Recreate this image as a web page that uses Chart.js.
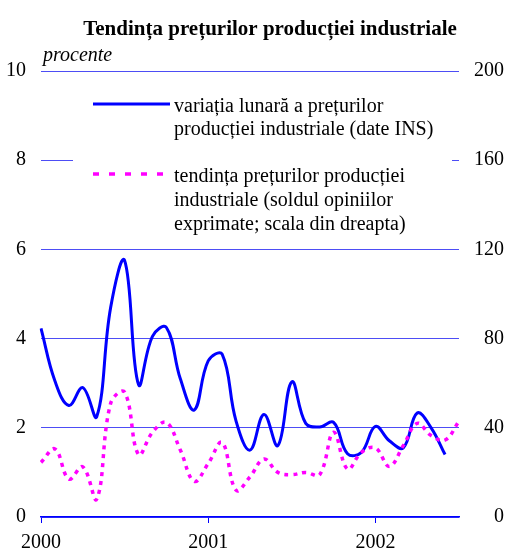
<!DOCTYPE html>
<html><head><meta charset="utf-8">
<script src="https://cdn.jsdelivr.net/npm/chart.js@4.4.1/dist/chart.umd.min.js"></script>
<style>html,body{margin:0;padding:0;background:#fff;} #wrap{width:507px;height:552px;position:relative;}</style>
</head><body><div id="wrap"><canvas id="c" width="507" height="552"></canvas></div>
<script>
const months = ['2000-01','2000-02','2000-03','2000-04','2000-05','2000-06','2000-07','2000-08','2000-09','2000-10','2000-11','2000-12',
  '2001-01','2001-02','2001-03','2001-04','2001-05','2001-06','2001-07','2001-08','2001-09','2001-10','2001-11','2001-12',
  '2002-01','2002-02','2002-03','2002-04','2002-05','2002-06','2002-07'];
// variatia lunara a preturilor productiei industriale (%), left axis
const variatiaLunara = [4.23,3.05,2.5,2.9,2.25,4.7,5.75,2.97,4.05,4.25,3.1,2.4,
  3.5,3.65,2.15,1.5,2.3,1.6,3.03,2.1,2.02,2.12,1.42,1.45,
  2.03,1.71,1.55,2.33,2.0,1.4];
// tendinta preturilor (soldul opiniilor), right axis
const tendinta = [24.5,30.5,17,22.5,8,51,56,28,38,42.4,30,16,
  24,33.4,12,18,26,20,19,20,19,38,21.5,29,
  31,22.7,32,42,36.5,34.5,43];
const yearTicks = ['2000','2001','2002'];
const titleText = 'Tendința prețurilor producției industriale';
const unitText = 'procente';
const legendBlue = ['variația lunară a prețurilor','producției industriale (date INS)'];
const legendMagenta = ['tendința prețurilor producției','industriale (soldul opiniilor','exprimate; scala din dreapta)'];

const FONT = 'Liberation Serif, Times New Roman, serif';
const BLUE = '#0000ff';
const MAGENTA = '#ff00ff';
const GRID = '#4d4df5';

const decor = {
  id: 'decor',
  beforeDatasetsDraw(chart) {
    const ctx = chart.ctx;
    ctx.save();
    ctx.fillStyle = '#ffffff';
    ctx.fillRect(73, 82, 379, 158);
    ctx.restore();
  },
  afterDraw(chart) {
    const ctx = chart.ctx;
    ctx.save();
    ctx.fillStyle = '#000';
    ctx.textBaseline = 'alphabetic';
    ctx.font = 'bold 21px ' + FONT;
    ctx.textAlign = 'center';
    ctx.fillText(titleText, 270, 35);
    ctx.textAlign = 'left';
    ctx.font = 'italic 20px ' + FONT;
    ctx.fillText(unitText, 43, 61);
    // legend
    ctx.font = '20px ' + FONT;
    ctx.fillText(legendBlue[0], 174, 111.5);
    ctx.fillText(legendBlue[1], 174, 135);
    ctx.fillText(legendMagenta[0], 174, 181.5);
    ctx.fillText(legendMagenta[1], 174, 205.5);
    ctx.fillText(legendMagenta[2], 174, 229.5);
    ctx.lineWidth = 3;
    ctx.strokeStyle = BLUE;
    ctx.beginPath(); ctx.moveTo(93, 104); ctx.lineTo(170, 104); ctx.stroke();
    ctx.strokeStyle = MAGENTA;
    ctx.lineWidth = 3.5;
    ctx.setLineDash([6, 10]);
    ctx.beginPath(); ctx.moveTo(93, 174); ctx.lineTo(172, 174); ctx.stroke();
    ctx.restore();
  }
};

new Chart(document.getElementById('c'), {
  type: 'line',
  data: {
    labels: months,
    datasets: [
      { label: 'tendința prețurilor', data: tendinta, yAxisID: 'y1', borderColor: MAGENTA, borderWidth: 3.5,
        borderDash: [4, 5], pointRadius: 0, tension: 0.4, fill: false },
      { label: 'variația lunară', data: variatiaLunara, yAxisID: 'y', borderColor: BLUE, borderWidth: 3,
        pointRadius: 0, tension: 0.4, fill: false }
    ]
  },
  options: {
    responsive: false,
    animation: false,
    devicePixelRatio: 1,
    layout: { padding: { top: 71, right: 3, left: 0, bottom: 0 } },
    plugins: { legend: { display: false }, tooltip: { enabled: false }, title: { display: false } },
    scales: {
      x: {
        type: 'category', offset: false,
        grid: { drawOnChartArea: false, drawTicks: true, tickLength: 6, color: BLUE, lineWidth: 1 },
        border: { display: true, color: BLUE, width: 1.5 },
        ticks: { autoSkip: false, maxRotation: 0, minRotation: 0, padding: 8, color: '#000',
          font: { family: FONT, size: 20 },
          callback: (v) => yearTicks[Math.round(v / 12)] },
        afterBuildTicks: (s) => { s.ticks = s.ticks.filter(t => months[t.value].endsWith('-01')); },
        afterFit: (s) => { s.height = 35; }
      },
      y: {
        position: 'left', min: 0, max: 10,
        ticks: { stepSize: 2, padding: 15, color: '#000', font: { family: FONT, size: 20 } },
        grid: { color: GRID, lineWidth: 1, drawTicks: false },
        border: { display: false },
        afterFit: (s) => { s.width = 41; }
      },
      y1: {
        position: 'right', min: 0, max: 200,
        ticks: { stepSize: 40, padding: 0, crossAlign: 'far', color: '#000', font: { family: FONT, size: 20 } },
        grid: { display: false, drawTicks: false },
        border: { display: false },
        afterFit: (s) => { s.width = 45; }
      }
    }
  },
  plugins: [decor]
});
</script>
</body></html>
